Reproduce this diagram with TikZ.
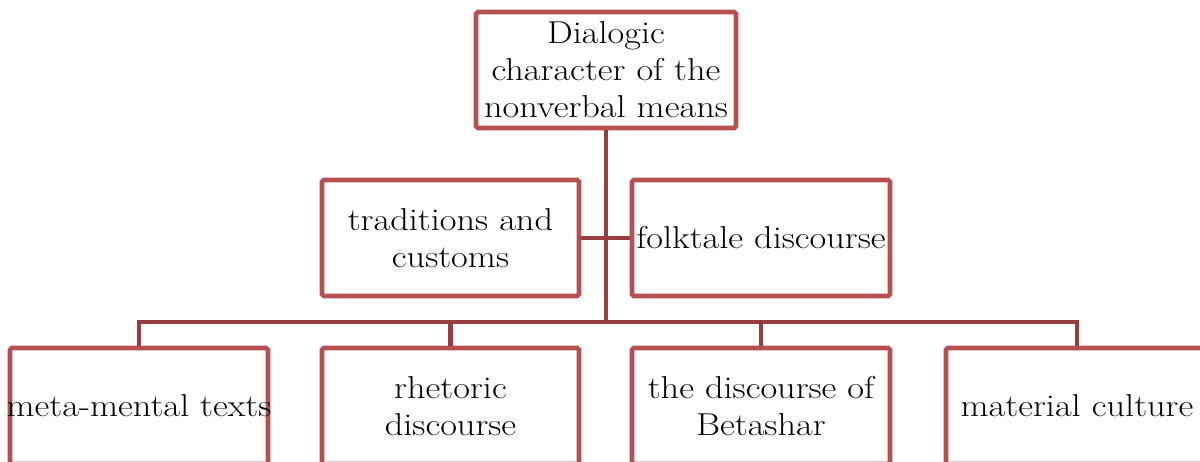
\documentclass[tikz,border=0pt]{standalone}
\usepackage{fontspec}
\setmainfont{Latin Modern Roman}[FakeStretch=1.15]
\definecolor{boxred}{RGB}{182,80,80}
\definecolor{linered}{RGB}{150,62,64}
\begin{document}
\begin{tikzpicture}[x=0.02cm,y=-0.02cm,
  box/.style={draw=boxred, line width=2.6pt, rounded corners=1pt, fill=white,
    inner sep=0pt, minimum height=116*0.02cm, align=center,
    font=\fontsize{18}{21}\selectfont},
  conn/.style={draw=linered, line width=2.6pt}]
\useasboundingbox (0,0) rectangle (1200,461);
\clip (0,0) rectangle (1200,461);
\fill[white] (0,0) rectangle (1200,461);
% nodes
\node[box, minimum width=260*0.02cm] (top) at (606,70) {Dialogic\\character of the\\nonverbal means};
\node[box, minimum width=257*0.02cm] (midL) at (450.5,238) {traditions and\\customs};
\node[box, minimum width=258*0.02cm] (midR) at (761,238) {\makebox[0pt]{folktale discourse}};
\node[box, minimum width=258*0.02cm] (bot1) at (139,406) {\makebox[0pt]{meta-mental texts}};
\node[box, minimum width=257*0.02cm] (bot2) at (450.5,406) {rhetoric\\discourse};
\node[box, minimum width=258*0.02cm] (bot3) at (761,406) {the discourse of\\Betashar};
\node[box, minimum width=262*0.02cm] (bot4) at (1077,406) {material culture};
% connectors
\coordinate (j) at (606,322);
\draw[conn] (top.south) -- (j);
\draw[conn] (midL.east) -- (midR.west);
\draw[conn] (bot1.north) |- (j);
\draw[conn] (bot2.north) |- (j);
\draw[conn] (bot3.north) |- (j);
\draw[conn] (bot4.north) |- (j);
\end{tikzpicture}
\end{document}
